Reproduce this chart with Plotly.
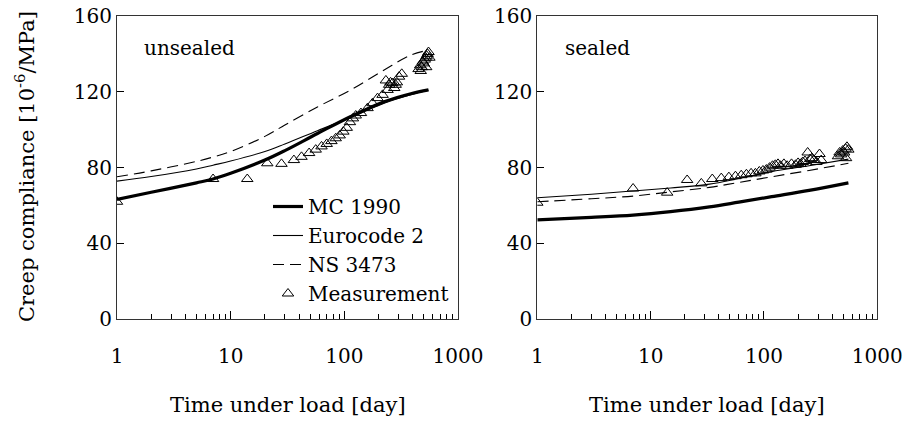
import plotly.graph_objects as go

# ---------------- data ----------------
# unsealed specimens: model curves (time under load in days, compliance in 1e-6/MPa)
t_model_u = [1, 2, 5, 7, 10, 20, 30, 58, 114, 224, 385, 550]
mc1990_u = [63.2, 67.0, 72.0, 74.0, 77.0, 84.0, 89.0, 98.0, 107.0, 114.8, 119.0, 121.0]
ec2_u = [72.9, 75.3, 79.3, 81.3, 83.5, 88.5, 92.5, 99.5, 106.5, 114.0, 118.5, 120.8]
ns3473_u = [75.2, 78.3, 83.3, 85.6, 88.5, 96.5, 102.5, 112.0, 121.0, 131.5, 139.4, 142.0]

# unsealed specimens: measurements
t_meas_u = [1, 7, 14, 21, 28, 36, 42, 49, 56, 63, 70, 77, 84, 91, 98, 105, 112, 119,
            126, 140, 160, 177, 196, 217, 232, 240, 248, 255, 265, 275, 283, 290, 303,
            320, 450, 465, 470, 480, 490, 500, 510, 520, 525, 530, 540, 550, 560]
meas_u = [62.0, 74.0, 74.0, 82.3, 82.0, 84.0, 85.7, 87.7, 89.5, 91.2, 92.5, 94.0, 95.5,
          97.0, 99.0, 101.0, 104.0, 106.0, 107.5, 108.8, 111.4, 114.0, 116.7, 118.4,
          126.0, 121.0, 123.7, 125.0, 124.6, 122.0, 123.7, 125.0, 128.0, 129.5, 132.0,
          134.0, 131.0, 133.0, 136.0, 135.0, 137.0, 138.0, 133.0, 139.0, 140.0, 141.0, 138.0]

# sealed specimens: model curves
t_model_s = [1, 3, 7, 15, 33, 60, 117, 250, 556]
mc1990_s = [52.5, 53.8, 55.0, 56.8, 59.3, 61.8, 64.7, 68.0, 72.0]
ec2_s = [64.1, 66.0, 67.7, 69.3, 71.3, 74.3, 77.9, 81.0, 84.5]
ns3473_s = [62.0, 63.6, 65.0, 67.2, 69.6, 72.2, 75.2, 78.5, 82.3]

# sealed specimens: measurements
t_meas_s = [1, 7, 14, 21, 28, 35, 42, 49, 56, 63, 70, 77, 84, 91, 98, 105, 112, 119,
            126, 133, 140, 150, 160, 175, 190, 200, 210, 220, 230, 243, 255, 265, 275,
            290, 309, 320, 450, 465, 480, 495, 510, 525, 530, 540, 555]
meas_s = [61.5, 69.0, 66.8, 73.5, 71.7, 74.0, 74.5, 75.0, 75.5, 76.0, 76.5, 77.0, 77.0,
          78.0, 78.5, 79.0, 80.0, 81.0, 81.5, 82.0, 81.0, 82.0, 81.0, 82.0, 81.5, 82.5,
          82.0, 83.0, 83.5, 88.0, 84.5, 85.0, 84.0, 83.0, 87.2, 84.0, 86.0, 88.0, 87.0,
          89.0, 88.0, 90.0, 85.0, 91.0, 89.5]

y_ticks = [0, 40, 80, 120, 160]
x_tick_vals = [1, 10, 100, 1000]
x_tick_text = ["1", "10", "100", "1000"]
x_minor_vals = [m * d for d in (1, 10, 100) for m in range(2, 10)]

FONT = "DejaVu Serif"
TITLE_FS = 21  # axis titles
LABEL_FS = 20  # panel labels and legend
TICK_FS = 20   # tick labels

fig = go.Figure()


def add_panel(xa, ya, t_model, mc, ec, ns, t_meas, meas, legend):
    fig.add_trace(go.Scatter(x=t_model, y=mc, mode="lines", name="MC 1990",
                             line=dict(color="black", width=3.2, shape="spline"),
                             xaxis=xa, yaxis=ya, showlegend=legend))
    fig.add_trace(go.Scatter(x=t_model, y=ec, mode="lines", name="Eurocode 2",
                             line=dict(color="black", width=1.1, shape="spline"),
                             xaxis=xa, yaxis=ya, showlegend=legend))
    fig.add_trace(go.Scatter(x=t_model, y=ns, mode="lines", name="NS 3473",
                             line=dict(color="black", width=1.1, shape="spline",
                                       dash="11px,6px"),
                             xaxis=xa, yaxis=ya, showlegend=legend))
    fig.add_trace(go.Scatter(x=t_meas, y=meas, mode="markers", name="Measurement",
                             marker=dict(symbol="triangle-up-open", size=10,
                                         color="black", line=dict(width=1, color="black")),
                             xaxis=xa, yaxis=ya, showlegend=legend))


add_panel("x", "y", t_model_u, mc1990_u, ec2_u, ns3473_u, t_meas_u, meas_u, True)
add_panel("x2", "y2", t_model_s, mc1990_s, ec2_s, ns3473_s, t_meas_s, meas_s, False)

W, H = 904, 423
y_dom = [1 - 319.3 / H, 1 - 16 / H]

xcommon = dict(type="log", range=[0, 3], tickmode="array", tickvals=x_tick_vals,
               ticktext=x_tick_text, ticks="inside", ticklen=8, tickcolor="black",
               showline=True, linecolor="#333", linewidth=1, mirror=True,
               showgrid=False, zeroline=False, ticklabelstandoff=19, automargin=False,
               ticklabeloverflow="allow",
               minor=dict(ticks="inside", ticklen=5, tickcolor="black",
                          tickvals=x_minor_vals, showgrid=False),
               tickfont=dict(family=FONT, size=TICK_FS, color="black"))
ycommon = dict(range=[0, 160], tickvals=y_ticks, ticks="inside", ticklen=7,
               tickcolor="black", showline=True, linecolor="#333", linewidth=1,
               mirror=True, showgrid=False, zeroline=False, automargin=False,
               ticklabeloverflow="allow",
               tickfont=dict(family=FONT, size=TICK_FS, color="black"))

fig.update_layout(
    template="none",
    width=W, height=H,
    margin=dict(l=0, r=0, t=0, b=0, autoexpand=False),
    paper_bgcolor="white", plot_bgcolor="white",
    font=dict(family=FONT, size=LABEL_FS, color="black"),
    xaxis=dict(domain=[117 / W, 458 / W], anchor="y", **xcommon),
    yaxis=dict(domain=y_dom, anchor="x", **ycommon),
    xaxis2=dict(domain=[537.3 / W, 877.3 / W], anchor="y2", **xcommon),
    yaxis2=dict(domain=y_dom, anchor="x2", **ycommon),
    legend=dict(x=268 / W, y=1 - 187 / H, xanchor="left", yanchor="top",
                bgcolor="rgba(0,0,0,0)", borderwidth=0, tracegroupgap=0,
                font=dict(family=FONT, size=LABEL_FS, color="black")),
    showlegend=True,
)

annotations = [
    dict(text="unsealed", xref="x domain", yref="y domain", x=0.073, y=0.894,
         xanchor="left", yanchor="middle", showarrow=False,
         font=dict(family=FONT, size=LABEL_FS)),
    dict(text="sealed", xref="x2 domain", yref="y2 domain", x=0.076, y=0.894,
         xanchor="left", yanchor="middle", showarrow=False,
         font=dict(family=FONT, size=LABEL_FS)),
    dict(text="Time under load [day]", xref="paper", yref="paper", x=287.5 / W,
         y=1 - 405 / H, xanchor="center", yanchor="middle", showarrow=False,
         font=dict(family=FONT, size=TITLE_FS)),
    dict(text="Time under load [day]", xref="paper", yref="paper", x=707 / W,
         y=1 - 405 / H, xanchor="center", yanchor="middle", showarrow=False,
         font=dict(family=FONT, size=TITLE_FS)),
    dict(text="Creep compliance [10<sup>-6</sup>/MPa]", xref="paper", yref="paper",
         x=25 / W, y=1 - 167 / H, xanchor="center", yanchor="middle", textangle=-90,
         showarrow=False, font=dict(family=FONT, size=TITLE_FS)),
]
fig.update_layout(annotations=annotations)

fig.write_html("out.html")
